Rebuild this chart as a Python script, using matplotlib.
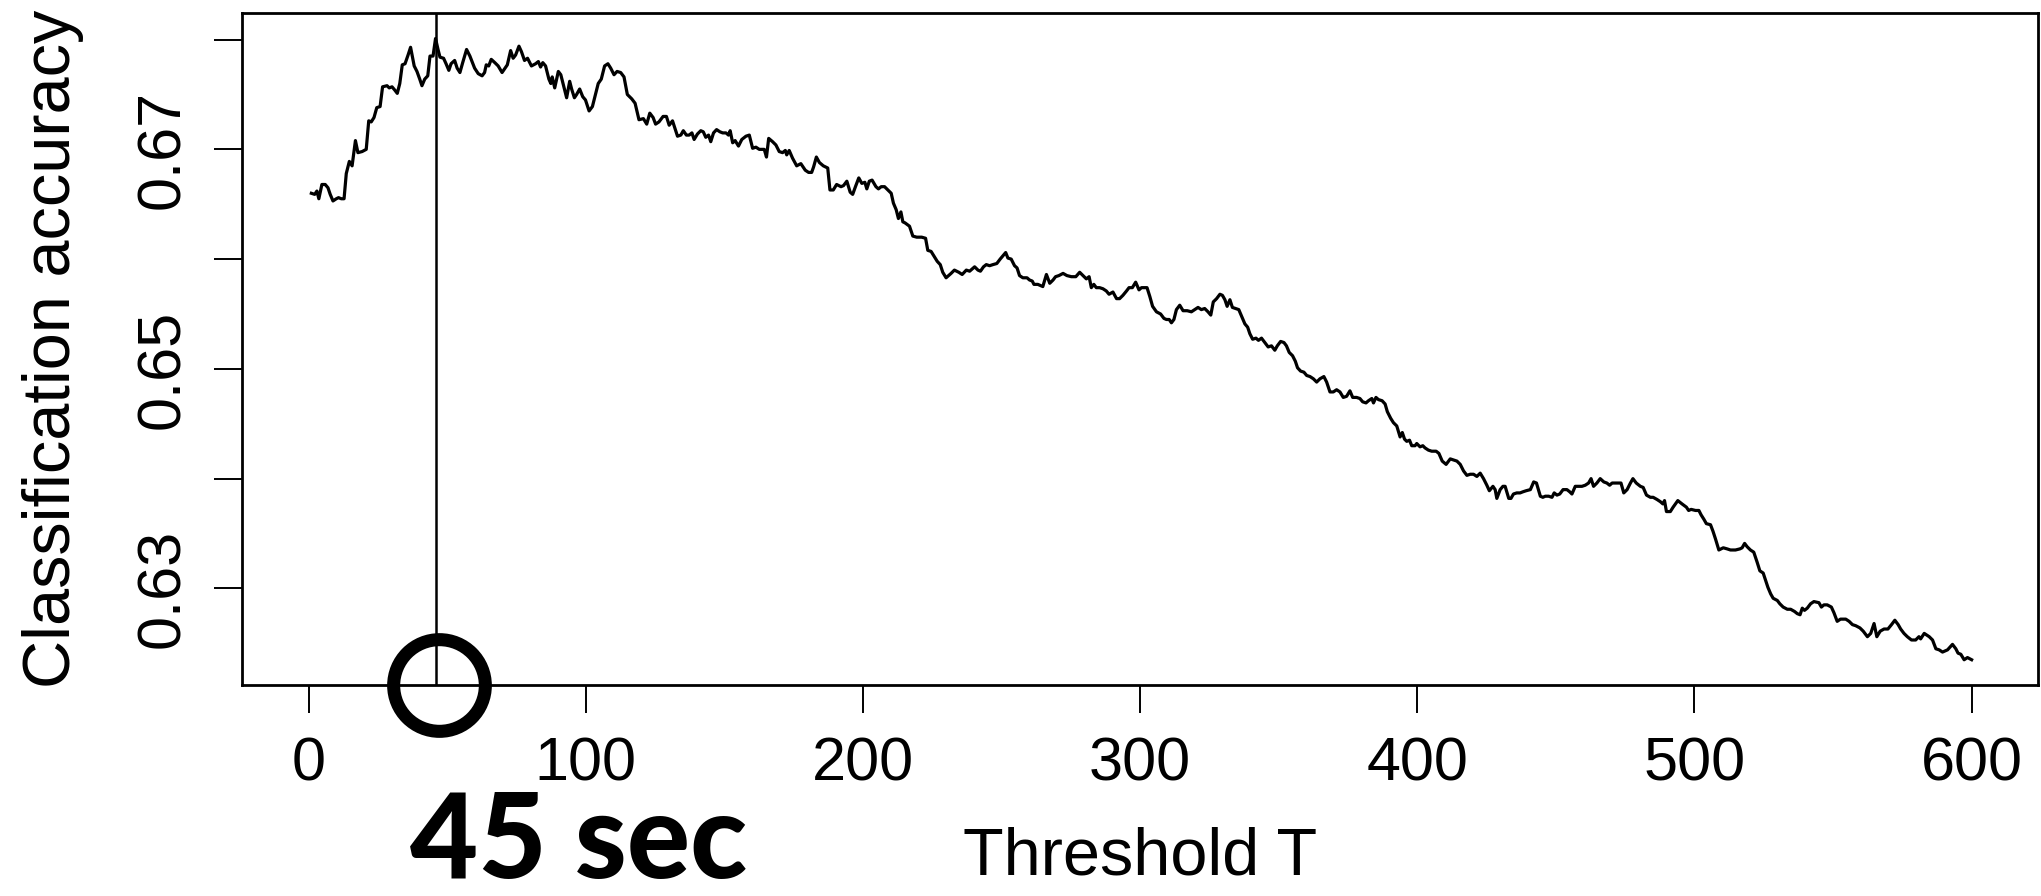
import matplotlib.pyplot as plt

# classification accuracy vs threshold T
T = [1, 2.2, 3.0, 3.7, 4.8, 6.0, 7.0, 7.8, 8.8, 10.0, 10.8, 11.8, 12.8, 13.6, 14.7, 15.7, 16.9, 17.8, 19.3, 20.8,
     21.7, 22.6, 23.6, 24.6, 25.8, 26.7, 28.3, 29.1, 30.1, 31.1, 32.0, 32.9, 33.8, 34.8, 35.9, 36.8, 38.1, 39.1, 40.1, 40.9,
     41.9, 43.0, 43.8, 44.9, 45.8, 46.7, 47.4, 48.7, 49.6, 50.6, 51.4, 52.7, 53.6, 54.6, 55.6, 57.0, 58.2, 59.9, 61.2, 62.6,
     63.5, 64.1, 65.0, 65.9, 67.2, 68.4, 69.8, 71.7, 72.9, 73.8, 74.7, 75.9, 76.8, 77.9, 79.0, 80.4, 81.9, 82.9, 83.7, 84.5,
     85.5, 86.7, 87.4, 87.9, 88.8, 90.1, 91.0, 92.1, 93.1, 94.2, 94.9, 95.9, 96.7, 97.8, 98.9, 99.9, 101.2, 102.4, 103.6, 104.5,
     105.6, 106.8, 108.0, 109.0, 110.2, 111.3, 112.6, 113.8, 115.0, 116.6, 117.8, 119.2, 120.8, 122.0, 123.1, 124.3, 125.2, 126.4, 127.9, 129.1,
     130.1, 131.3, 133.1, 134.3, 135.2, 136.3, 137.3, 138.3, 139.1, 140.3, 141.5, 142.4, 143.3, 144.3, 145.1, 146.1, 147.2, 148.4, 149.4, 150.6,
     151.5, 152.1, 153.0, 153.9, 155.1, 156.3, 157.8, 159.0, 160.2, 161.4, 162.6, 164.4, 165.2, 166.0, 167.4, 168.6, 169.8, 171.0, 172.0, 172.5,
     173.4, 174.6, 176.1, 177.6, 179.2, 180.4, 181.5, 182.2, 183.2, 184.3, 185.7, 187.3, 188.1, 189.3, 190.5, 192.1, 193.0, 194.2, 195.4, 196.3,
     197.3, 198.5, 199.6, 200.7, 201.4, 202.3, 203.3, 204.7, 205.6, 206.6, 207.8, 209.0, 210.2, 211.0, 212.0, 212.8, 213.7, 214.4, 215.2, 216.8,
     218.0, 219.4, 221.2, 222.6, 223.4, 224.6, 225.8, 226.8, 227.9, 228.8, 230.0, 231.8, 233.0, 234.6, 235.8, 237.3, 238.5, 240.3, 241.5, 242.4,
     243.5, 244.5, 245.7, 246.9, 248.3, 249.5, 251.5, 252.3, 253.5, 254.7, 255.6, 256.5, 257.7, 259.2, 260.1, 261.1, 261.7, 263.1, 264.9, 266.2,
     267.4, 268.6, 269.5, 270.7, 272.2, 273.6, 275.2, 276.8, 278.2, 279.4, 280.6, 281.6, 282.4, 283.3, 284.2, 285.4, 286.6, 287.8, 288.8, 290.2,
     291.5, 292.6, 293.8, 295.1, 296.0, 297.2, 298.4, 299.6, 300.5, 302.5, 303.5, 304.5, 305.9, 307.4, 308.6, 309.5, 310.5, 311.3, 312.2, 313.1,
     314.3, 315.5, 317.0, 318.5, 319.7, 320.9, 322.1, 323.3, 324.5, 325.5, 326.4, 327.6, 328.8, 329.7, 330.6, 331.4, 332.4, 333.3, 334.5, 335.6,
     336.6, 337.8, 338.8, 339.6, 340.6, 341.8, 342.7, 343.8, 345.0, 346.2, 347.4, 348.6, 349.5, 350.7, 351.9, 352.8, 353.8, 355.0, 356.0, 356.8,
     357.9, 359.1, 360.1, 361.3, 362.5, 363.7, 364.9, 366.3, 367.3, 368.5, 369.7, 370.9, 372.1, 373.3, 374.5, 375.7, 376.7, 378.1, 379.3, 380.3,
     381.5, 382.4, 383.6, 384.2, 385.1, 386.0, 387.3, 388.4, 389.2, 390.4, 391.4, 392.6, 393.2, 393.8, 394.6, 395.4, 396.2, 397.2, 398.0, 399.2,
     399.8, 401.0, 402.0, 402.8, 404.0, 405.2, 406.8, 407.8, 409.0, 410.4, 411.9, 413.1, 414.3, 415.5, 416.7, 417.9, 419.1, 420.3, 421.5, 422.7,
     423.9, 425.1, 426.0, 427.3, 428.1, 428.7, 429.9, 430.9, 431.7, 433.0, 433.8, 434.7, 435.9, 437.1, 438.1, 439.3, 440.8, 442.0, 443.0, 444.4,
     445.3, 446.2, 447.4, 448.6, 449.4, 450.4, 451.4, 452.6, 454.0, 455.0, 455.8, 457.0, 458.2, 459.4, 460.6, 461.8, 462.7, 463.6, 464.8, 466.0,
     467.3, 468.4, 469.4, 470.3, 471.5, 473.5, 474.5, 475.7, 476.9, 477.8, 479.0, 480.5, 481.5, 482.7, 484.1, 485.1, 486.5, 487.7, 488.6, 489.2,
     489.9, 491.3, 492.3, 494.0, 495.5, 497.1, 497.9, 498.8, 500.4, 501.6, 502.4, 503.4, 504.3, 505.8, 506.7, 507.6, 508.8, 510.4, 511.8, 513.0,
     514.8, 516.4, 517.2, 518.1, 519.0, 520.2, 521.4, 522.6, 523.6, 524.8, 525.6, 526.5, 527.5, 528.4, 529.9, 530.8, 532.0, 533.5, 534.7, 536.1,
     537.1, 538.1, 538.9, 539.7, 540.7, 541.9, 543.1, 544.9, 545.8, 546.7, 547.9, 549.4, 550.3, 551.5, 552.7, 554.6, 555.8, 557.0, 558.2, 559.7,
     560.9, 562.4, 563.6, 564.8, 565.8, 567.0, 568.4, 569.8, 571.1, 572.3, 573.5, 574.4, 575.6, 576.8, 578.3, 579.8, 581.0, 581.6, 582.9, 584.7,
     585.9, 587.1, 588.3, 589.5, 591.3, 593.1, 594.3, 595.1, 596.1, 597.3, 598.5, 600]
acc = [.6660, .6659, .6662, .6655, .6668, .6668, .6665, .6659, .6653, .6655, .6656, .6655, .6655, .6678, .6689, .6685, .6708, .6697, .6698, .6700,
       .6726, .6725, .6729, .6738, .6739, .6757, .6758, .6756, .6757, .6754, .6751, .6760, .6777, .6778, .6786, .6793, .6776, .6771, .6764, .6758,
       .6764, .6767, .6785, .6785, .6801, .6791, .6784, .6783, .6778, .6772, .6778, .6781, .6774, .6770, .6779, .6791, .6785, .6774, .6769, .6767,
       .6770, .6777, .6776, .6782, .6779, .6776, .6770, .6777, .6790, .6783, .6786, .6794, .6789, .6781, .6783, .6776, .6778, .6780, .6775, .6779,
       .6776, .6764, .6760, .6766, .6756, .6771, .6768, .6757, .6747, .6762, .6755, .6747, .6750, .6755, .6748, .6745, .6735, .6739, .6751, .6760,
       .6764, .6776, .6778, .6774, .6768, .6771, .6770, .6766, .6750, .6746, .6742, .6727, .6728, .6723, .6733, .6729, .6723, .6725, .6730, .6730,
       .6722, .6726, .6712, .6713, .6717, .6713, .6713, .6715, .6709, .6714, .6717, .6716, .6711, .6713, .6707, .6715, .6718, .6716, .6715, .6715,
       .6713, .6717, .6706, .6708, .6703, .6709, .6712, .6713, .6701, .6702, .6700, .6700, .6693, .6710, .6707, .6704, .6698, .6697, .6699, .6695,
       .6699, .6692, .6685, .6687, .6681, .6679, .6679, .6684, .6693, .6688, .6685, .6683, .6663, .6663, .6668, .6666, .6667, .6671, .6661, .6659,
       .6666, .6674, .6669, .6670, .6664, .6671, .6672, .6666, .6664, .6666, .6666, .6663, .6660, .6651, .6645, .6637, .6643, .6634, .6633, .6630,
       .6621, .6620, .6620, .6619, .6608, .6607, .6602, .6598, .6595, .6588, .6583, .6587, .6590, .6588, .6586, .6590, .6589, .6593, .6590, .6589,
       .6593, .6595, .6594, .6595, .6596, .6600, .6606, .6601, .6600, .6594, .6592, .6585, .6583, .6583, .6581, .6580, .6577, .6577, .6575, .6586,
       .6578, .6581, .6584, .6585, .6587, .6585, .6584, .6584, .6588, .6585, .6582, .6584, .6574, .6577, .6574, .6574, .6573, .6571, .6568, .6570,
       .6564, .6564, .6567, .6571, .6574, .6574, .6579, .6572, .6574, .6574, .6566, .6557, .6552, .6550, .6546, .6545, .6545, .6542, .6545, .6554,
       .6558, .6553, .6553, .6552, .6554, .6556, .6554, .6555, .6552, .6549, .6561, .6564, .6568, .6567, .6563, .6557, .6563, .6556, .6555, .6554,
       .6548, .6541, .6538, .6532, .6527, .6528, .6526, .6528, .6524, .6520, .6521, .6517, .6521, .6525, .6524, .6521, .6515, .6512, .6507, .6501,
       .6498, .6497, .6494, .6493, .6491, .6488, .6491, .6493, .6488, .6479, .6479, .6481, .6479, .6474, .6475, .6480, .6474, .6474, .6473, .6470,
       .6469, .6471, .6473, .6469, .6474, .6472, .6471, .6468, .6461, .6455, .6451, .6448, .6443, .6438, .6442, .6436, .6434, .6435, .6430, .6430,
       .6432, .6429, .6430, .6428, .6426, .6425, .6425, .6423, .6416, .6413, .6418, .6417, .6416, .6413, .6407, .6403, .6404, .6404, .6402, .6405,
       .6400, .6394, .6389, .6393, .6390, .6382, .6390, .6393, .6393, .6382, .6382, .6386, .6387, .6387, .6388, .6389, .6390, .6397, .6396, .6384,
       .6383, .6384, .6384, .6383, .6387, .6385, .6386, .6390, .6390, .6388, .6386, .6393, .6393, .6393, .6394, .6396, .6400, .6393, .6396, .6400,
       .6397, .6396, .6394, .6396, .6396, .6396, .6387, .6390, .6396, .6400, .6396, .6393, .6392, .6385, .6383, .6383, .6381, .6379, .6377, .6380,
       .6370, .6370, .6374, .6380, .6377, .6374, .6371, .6372, .6371, .6371, .6367, .6363, .6359, .6358, .6352, .6345, .6335, .6337, .6336, .6335,
       .6335, .6336, .6337, .6341, .6338, .6335, .6333, .6324, .6316, .6314, .6308, .6301, .6295, .6291, .6289, .6286, .6283, .6281, .6281, .6279,
       .6277, .6276, .6282, .6280, .6282, .6286, .6288, .6287, .6283, .6285, .6285, .6283, .6278, .6270, .6272, .6272, .6270, .6267, .6266, .6264,
       .6261, .6256, .6259, .6268, .6256, .6261, .6263, .6263, .6267, .6271, .6267, .6263, .6259, .6256, .6253, .6253, .6256, .6254, .6259, .6256,
       .6253, .6245, .6244, .6242, .6244, .6249, .6245, .6241, .6240, .6235, .6237, .6235]

best_T = 46
yticks = [0.63, 0.64, 0.65, 0.66, 0.67, 0.68]
ytick_labels = ['0.63', '', '0.65', '', '0.67', '']
xticks = [0, 100, 200, 300, 400, 500, 600]

plt.rcParams['font.family'] = ['Liberation Sans', 'DejaVu Sans']

fig = plt.figure(figsize=(20.41, 8.96), dpi=100)
ax = fig.add_axes([0.1186, 0.2355, 0.88, 0.7497])

ax.plot(T, acc, color='black', lw=2.3)
ax.axvline(best_T, color='black', lw=1.8)

# big circle sitting on the x axis at the chosen threshold
ax.plot([best_T + 1], [0], 'o', ms=66, mfc='none', mec='black', mew=9.4,
        transform=ax.get_xaxis_transform(), clip_on=False, zorder=5)

ax.set_xlim(-24, 624)
ax.set_ylim(0.6212, 0.6824)
ax.set_xticks(xticks)
ax.set_yticks(yticks)
ax.set_yticklabels(ytick_labels)

ax.tick_params(axis='both', direction='out', length=20, width=1.4, labelsize=44)
ax.tick_params(axis='x', pad=17)
ax.tick_params(axis='y', pad=16, labelrotation=90)
for lab in ax.get_yticklabels():
    lab.set_va('center')

for s in ax.spines.values():
    s.set_linewidth(2.0)

ax.set_xlabel('Threshold T', fontsize=48)
ax.set_ylabel('Classification accuracy', fontsize=48)
ax.xaxis.set_label_coords(0.5, -0.21)
ax.yaxis.set_label_coords(-0.088, 0.5)

fig.text(0.2837, 0.0198, '45 sec', ha='center', va='baseline', fontsize=85,
         fontweight='black', family='Lato')

fig.savefig('out.png', dpi=100)
